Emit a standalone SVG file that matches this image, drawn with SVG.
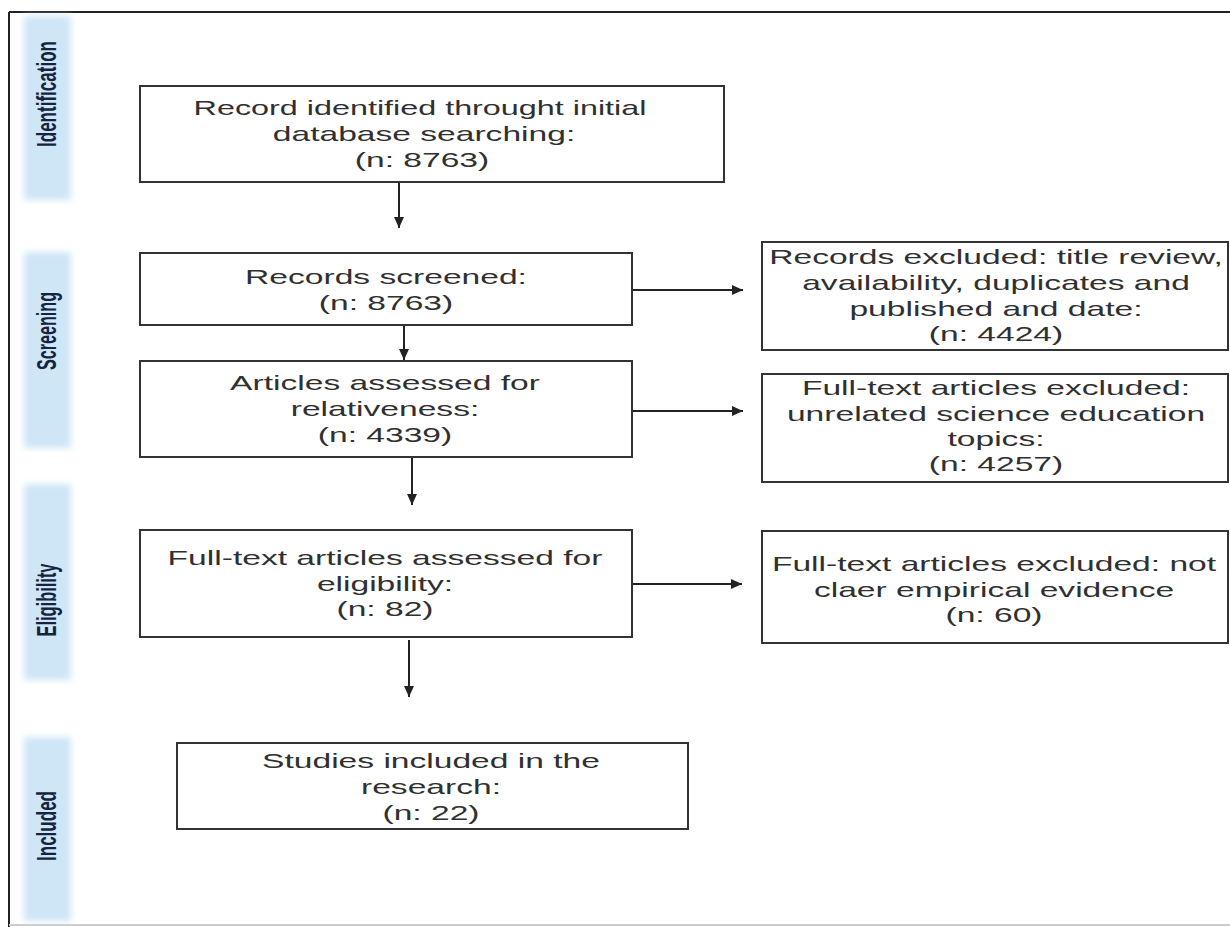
<svg xmlns="http://www.w3.org/2000/svg" width="1230" height="927" viewBox="0 0 1230 927">
<style>
.box{fill:#ffffff;stroke:#333333;stroke-width:2}
.t{font-family:"Liberation Sans",Arial,sans-serif;font-size:21px;fill:#303030;text-anchor:middle}
.lab{font-family:"Liberation Sans",Arial,sans-serif;font-size:17.5px;font-weight:bold;fill:#15233f;text-anchor:middle}
.bar{fill:#cfe6f7}
.conn{stroke:#222222;stroke-width:2;fill:none}
</style>
<defs>
<marker id="ah" markerUnits="userSpaceOnUse" markerWidth="12" markerHeight="12" refX="11" refY="6" orient="auto">
<path d="M0,1 L11,6 L0,11 z" fill="#222222"/>
</marker>
<filter id="soft" x="-30%" y="-10%" width="160%" height="120%">
<feGaussianBlur stdDeviation="3"/>
</filter>
</defs>
<rect x="0" y="0" width="1230" height="927" fill="#ffffff"/>
<g id="frame">
<line x1="9" y1="12" x2="1230" y2="12" stroke="#222" stroke-width="2"/>
<line x1="9" y1="12" x2="9" y2="927" stroke="#222" stroke-width="2"/>
<line x1="9" y1="925" x2="1230" y2="925" stroke="#cccccc" stroke-width="2"/>
</g>
<g id="phase-identification">
<rect class="bar" x="24" y="16" width="47" height="184" filter="url(#soft)"/>
<text class="lab" transform="translate(56,94) scale(1.6,1) rotate(-90)" x="0" y="0" textLength="106" lengthAdjust="spacingAndGlyphs">Identification</text>
</g>
<g id="phase-screening">
<rect class="bar" x="24" y="252" width="47" height="196" filter="url(#soft)"/>
<text class="lab" transform="translate(56,331) scale(1.6,1) rotate(-90)" x="0" y="0" textLength="78" lengthAdjust="spacingAndGlyphs">Screening</text>
</g>
<g id="phase-eligibility">
<rect class="bar" x="24" y="484" width="47" height="196" filter="url(#soft)"/>
<text class="lab" transform="translate(56,600) scale(1.6,1) rotate(-90)" x="0" y="0" textLength="73" lengthAdjust="spacingAndGlyphs">Eligibility</text>
</g>
<g id="phase-included">
<rect class="bar" x="24" y="737" width="47" height="184" filter="url(#soft)"/>
<text class="lab" transform="translate(56,826) scale(1.6,1) rotate(-90)" x="0" y="0" textLength="70" lengthAdjust="spacingAndGlyphs">Included</text>
</g>
<g id="connectors">
<line class="conn" x1="399" y1="182" x2="399" y2="228" marker-end="url(#ah)"/>
<line class="conn" x1="404" y1="325" x2="404" y2="360" marker-end="url(#ah)"/>
<line class="conn" x1="412" y1="457" x2="412" y2="505" marker-end="url(#ah)"/>
<line class="conn" x1="409" y1="640" x2="409" y2="697" marker-end="url(#ah)"/>
<line class="conn" x1="632" y1="290" x2="743" y2="290" marker-end="url(#ah)"/>
<line class="conn" x1="632" y1="411" x2="743" y2="411" marker-end="url(#ah)"/>
<line class="conn" x1="632" y1="584" x2="742" y2="584" marker-end="url(#ah)"/>
</g>
<g id="node-identified">
<rect class="box" x="140" y="86" width="584" height="96"/>
<text class="t" transform="translate(420,0) scale(1.54,1)" x="0" y="115">Record identified throught initial</text>
<text class="t" transform="translate(424,0) scale(1.6,1)" x="0" y="141">database searching:</text>
<text class="t" transform="translate(422,0) scale(1.6,1)" x="0" y="167">(n: 8763)</text>
</g>
<g id="node-screened">
<rect class="box" x="140" y="253" width="492" height="72"/>
<text class="t" transform="translate(386,0) scale(1.6,1)" x="0" y="284">Records screened:</text>
<text class="t" transform="translate(386,0) scale(1.6,1)" x="0" y="310">(n: 8763)</text>
</g>
<g id="node-relativeness">
<rect class="box" x="140" y="361" width="492" height="96"/>
<text class="t" transform="translate(385,0) scale(1.6,1)" x="0" y="390">Articles assessed for</text>
<text class="t" transform="translate(385,0) scale(1.6,1)" x="0" y="416">relativeness:</text>
<text class="t" transform="translate(385,0) scale(1.6,1)" x="0" y="442">(n: 4339)</text>
</g>
<g id="node-eligibility">
<rect class="box" x="140" y="530" width="492" height="107"/>
<text class="t" transform="translate(385,0) scale(1.6,1)" x="0" y="565">Full-text articles assessed for</text>
<text class="t" transform="translate(385,0) scale(1.6,1)" x="0" y="591">eligibility:</text>
<text class="t" transform="translate(385,0) scale(1.6,1)" x="0" y="616">(n: 82)</text>
</g>
<g id="node-included">
<rect class="box" x="177" y="743" width="511" height="86"/>
<text class="t" transform="translate(431,0) scale(1.6,1)" x="0" y="768">Studies included in the</text>
<text class="t" transform="translate(431,0) scale(1.6,1)" x="0" y="794">research:</text>
<text class="t" transform="translate(431,0) scale(1.6,1)" x="0" y="820">(n: 22)</text>
</g>
<g id="node-excluded-title">
<rect class="box" x="762" y="242" width="466" height="108"/>
<text class="t" transform="translate(996,0) scale(1.6,1)" x="0" y="264">Records excluded: title review,</text>
<text class="t" transform="translate(996,0) scale(1.6,1)" x="0" y="290">availability, duplicates and</text>
<text class="t" transform="translate(996,0) scale(1.6,1)" x="0" y="316">published and date:</text>
<text class="t" transform="translate(996,0) scale(1.6,1)" x="0" y="341">(n: 4424)</text>
</g>
<g id="node-excluded-topics">
<rect class="box" x="762" y="374" width="466" height="108"/>
<text class="t" transform="translate(996,0) scale(1.6,1)" x="0" y="395">Full-text articles excluded:</text>
<text class="t" transform="translate(996,0) scale(1.6,1)" x="0" y="421">unrelated science education</text>
<text class="t" transform="translate(996,0) scale(1.6,1)" x="0" y="446">topics:</text>
<text class="t" transform="translate(996,0) scale(1.6,1)" x="0" y="471">(n: 4257)</text>
</g>
<g id="node-excluded-evidence">
<rect class="box" x="762" y="531" width="466" height="112"/>
<text class="t" transform="translate(994,0) scale(1.6,1)" x="0" y="571">Full-text articles excluded: not</text>
<text class="t" transform="translate(994,0) scale(1.6,1)" x="0" y="597">claer empirical evidence</text>
<text class="t" transform="translate(994,0) scale(1.6,1)" x="0" y="622">(n: 60)</text>
</g>
</svg>
